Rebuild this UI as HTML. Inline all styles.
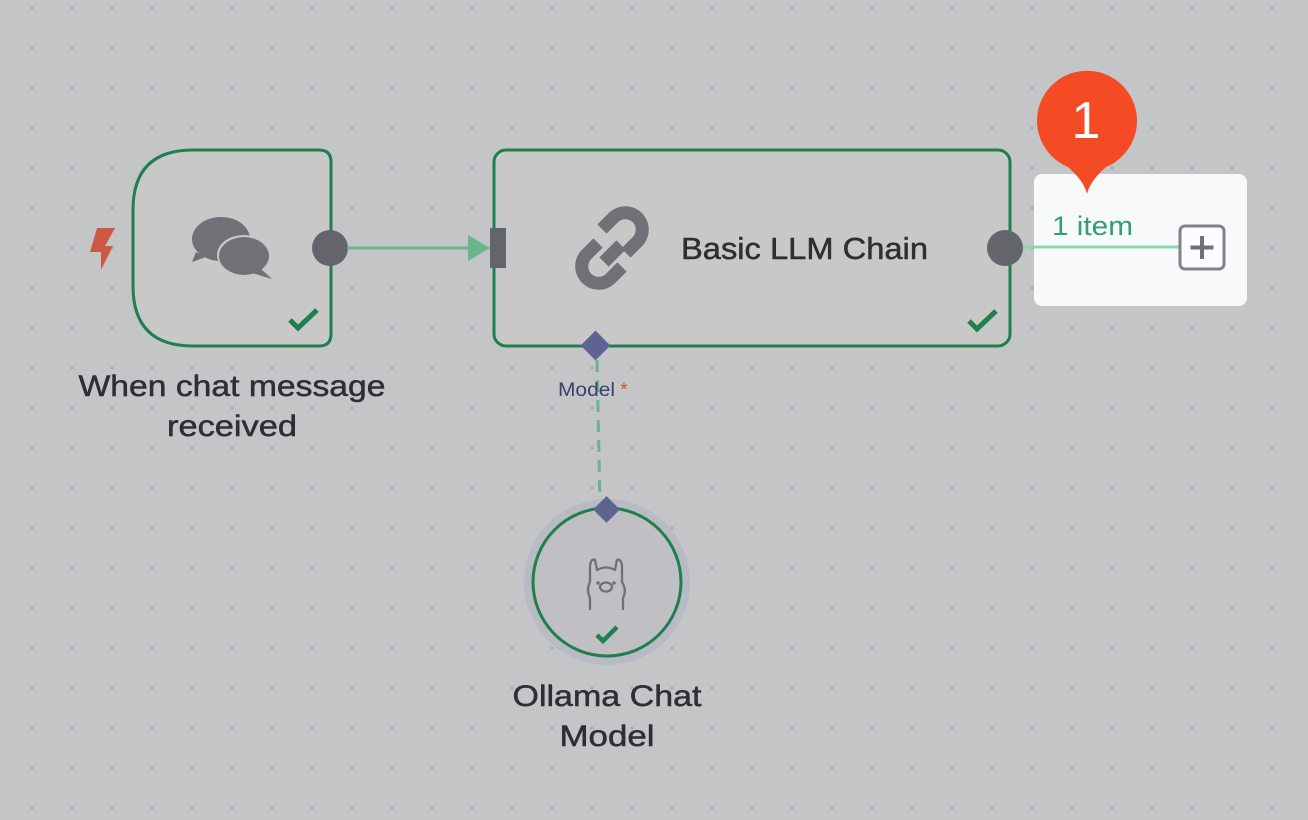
<!DOCTYPE html>
<html><head><meta charset="utf-8"><style>
html,body{margin:0;padding:0;background:#c4c5c7;width:1308px;height:820px;overflow:hidden}
svg{display:block}
text{font-family:"Liberation Sans",sans-serif}
</style></head><body>
<svg width="1308" height="820" viewBox="0 0 1308 820" xmlns="http://www.w3.org/2000/svg">
<defs>
<pattern id="dots" x="32" y="8" width="40" height="40" patternUnits="userSpaceOnUse">
<circle cx="0" cy="0" r="1.6" fill="#a9abb3"/><circle cx="40" cy="0" r="1.6" fill="#a9abb3"/><circle cx="0" cy="40" r="1.6" fill="#a9abb3"/><circle cx="40" cy="40" r="1.6" fill="#a9abb3"/>
</pattern>
</defs>
<rect width="1308" height="820" fill="#c4c5c7"/>
<rect width="1308" height="820" fill="url(#dots)"/>

<!-- trigger node -->
<path d="M193 150 H319 Q331 150 331 162 V334 Q331 346 319 346 H193 Q133 346 133 286 V210 Q133 150 193 150 Z" fill="#c8c8c9" stroke="#1f7f4e" stroke-width="3"/>
<path d="M97 228 L115 228 L105 246 L113 246 L101 270 L101 252 L90 252 Z" fill="#cf5745"/>
<ellipse cx="221" cy="239" rx="29" ry="22" fill="#707177"/>
<path d="M196 252 L192 262 L206 257 Z" fill="#707177"/>
<ellipse cx="244" cy="255" rx="27" ry="20" fill="#c8c8c9"/>
<ellipse cx="244" cy="256" rx="25" ry="19" fill="#707177"/>
<path d="M260 268 L272 279 L252 273 Z" fill="#707177"/>
<path d="M290 320 L298 328 L317 310" fill="none" stroke="#1f7f4e" stroke-width="5"/>
<circle cx="330" cy="248" r="18" fill="#63656b"/>
<text x="232" y="396" font-size="30" fill="#2e2f33" text-anchor="middle" textLength="307" lengthAdjust="spacingAndGlyphs" stroke="#2e2f33" stroke-width="0.5">When chat message</text>
<text x="232" y="436" font-size="30" fill="#2e2f33" text-anchor="middle" textLength="130" lengthAdjust="spacingAndGlyphs" stroke="#2e2f33" stroke-width="0.5">received</text>

<line x1="347" y1="248" x2="472" y2="248" stroke="#6bb58a" stroke-width="3"/>
<path d="M468 235 L490 248 L468 261 Z" fill="#6bb58a"/>

<!-- main node -->
<rect x="494" y="150" width="516" height="196" rx="12" fill="#c8c8c9" stroke="#1f7f4e" stroke-width="3"/>
<rect x="490" y="228" width="16" height="40" fill="#63656b"/>
<g fill="none" stroke="#707177" stroke-width="13" stroke-linecap="butt">
<path d="M598 243 L586 255 A17 17 0 0 0 610 279 L622 267"/>
<path d="M626 253 L638 241 A17 17 0 0 0 614 217 L602 229"/>
<line x1="604" y1="262" x2="621" y2="245"/>
</g>
<text x="681" y="259" font-size="31" fill="#2e2f33" textLength="247" lengthAdjust="spacingAndGlyphs" stroke="#2e2f33" stroke-width="0.5">Basic LLM Chain</text>
<path d="M969 321 L977 329 L996 311" fill="none" stroke="#1f7f4e" stroke-width="5"/>

<!-- output overlay -->
<rect x="1034" y="174" width="213" height="132" rx="8" fill="#fbfcfe" opacity="0.95"/>
<line x1="1023" y1="247" x2="1180" y2="247" stroke="#86dcb0" stroke-width="3"/>
<circle cx="1005" cy="248" r="18" fill="#63656b"/>
<text x="1052" y="235" font-size="27" fill="#2ea26a" textLength="81" lengthAdjust="spacingAndGlyphs">1 item</text>
<rect x="1180" y="226" width="44" height="43" rx="5" fill="#fbfcfe" stroke="#80828a" stroke-width="3"/>
<path d="M1202 236 V259 M1190.5 247.5 H1213.5" stroke="#707177" stroke-width="4"/>
<path d="M1087 194 Q1084 181 1068 167 A50 50 0 1 1 1106 167 Q1090 181 1087 194 Z" fill="#f44b25"/>
<text x="1086" y="138" font-size="52" fill="#fff" text-anchor="middle">1</text>

<!-- model connection -->
<line x1="597" y1="360" x2="600" y2="505" stroke="#6bb58a" stroke-width="3" stroke-dasharray="12 8"/>
<rect x="585" y="335" width="21" height="21" fill="#5f6391" transform="rotate(45 595.5 345.5)"/>
<text x="558" y="396" font-size="19" fill="#3b3f6e"><tspan textLength="57" lengthAdjust="spacingAndGlyphs">Model</tspan> <tspan fill="#d0503f">*</tspan></text>

<!-- ollama node -->
<circle cx="607" cy="582" r="83" fill="#b8bbc3"/>
<circle cx="607" cy="582" r="74" fill="#c0bfc3" stroke="#1f7f4e" stroke-width="3"/>
<rect x="597" y="500" width="19" height="19" fill="#5f6391" transform="rotate(45 606.5 509.5)"/>
<g fill="none" stroke="#707177" stroke-width="2.3" stroke-linejoin="round">
<path d="M590 610 V598 Q586 590 590 582 L590 566 Q591 558 595 560 L597 570 Q606 565 615 570 L617 560 Q621 558 622 566 L622 582 Q627 590 623 598 V610"/>
<ellipse cx="606" cy="587" rx="6" ry="4.5"/>
</g>
<circle cx="598" cy="583" r="1.8" fill="#707177"/><circle cx="614" cy="583" r="1.8" fill="#707177"/>
<path d="M597 635 L603 641 L617 627" fill="none" stroke="#1f7f4e" stroke-width="4.5"/>
<text x="607" y="706" font-size="30" fill="#2e2f33" text-anchor="middle" textLength="189" lengthAdjust="spacingAndGlyphs" stroke="#2e2f33" stroke-width="0.5">Ollama Chat</text>
<text x="607" y="746" font-size="30" fill="#2e2f33" text-anchor="middle" textLength="95" lengthAdjust="spacingAndGlyphs" stroke="#2e2f33" stroke-width="0.5">Model</text>
</svg>
</body></html>
